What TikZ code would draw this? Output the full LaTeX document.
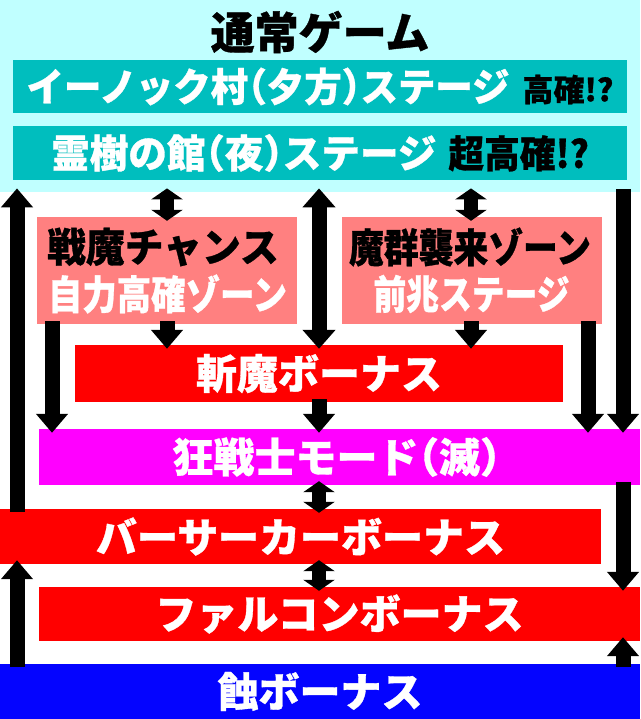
\documentclass[tikz,border=0pt]{standalone}
\usepackage{graphicx}
\usepackage{fontspec}
\setmainfont{Noto Sans CJK JP}[BoldFeatures={FakeBold=0.8}]
\usetikzlibrary{arrows.meta}
\definecolor{normalbg}{RGB}{192,255,255}
\definecolor{stageteal}{RGB}{0,190,190}
\definecolor{zonepink}{RGB}{255,128,128}
\definecolor{modemag}{RGB}{255,0,255}
\definecolor{shokublue}{RGB}{4,4,255}
\newcommand{\squeeze}[2]{\scalebox{#1}[1]{#2}}
\newcommand{\hlp}{{\addfontfeature{RawFeature=+halt}（}}
\newcommand{\hrp}{{\addfontfeature{RawFeature=+halt}）}}

\begin{document}
\begin{tikzpicture}[x=1pt,y=-1pt,
	panel/.style={inner sep=0pt, text=white, font=\bfseries\fontsize{41}{44}\selectfont},
	stage/.style={inner sep=0pt, fill=stageteal, minimum width=614pt, text=white, font=\bfseries\fontsize{39}{42}\selectfont},
	zone/.style={inner sep=0pt, fill=zonepink, minimum width=260pt, minimum height=107pt},
	zonetxt/.style={inner sep=0pt, font=\bfseries\fontsize{40}{42}\selectfont},
	arr/.style={line width=15pt, -{Triangle[width=31pt,length=19pt]}, shorten >=-4pt, shorten <=-3pt},
	dbl/.style={line width=14pt, {Triangle[width=31pt,length=11pt]}-{Triangle[width=31pt,length=11pt]}, shorten >=-4pt, shorten <=-4pt},
	dblbig/.style={line width=15pt, {Triangle[width=32pt,length=19pt]}-{Triangle[width=32pt,length=19pt]}, shorten >=-4pt, shorten <=-4pt}]
	\useasboundingbox (0,0) rectangle (640,719);
	% normal game
	\node[fill=normalbg, minimum width=640pt, minimum height=192pt, inner sep=0pt, anchor=north west] (normal) at (0,0) {};
	\node[inner sep=0pt, font=\bfseries\fontsize{44}{46}\selectfont] (title) at (320,32) {通常ゲーム};
	\node[stage, minimum height=53pt] (enoch) at (320,86.5)
		{\squeeze{0.96}{イーノック村\hlp 夕方\hrp ステージ}\hspace{13pt}{\color{black}\fontsize{31}{34}\selectfont 高確!?}};
	\node[stage, minimum height=54pt] (reiju) at (320,153)
		{\squeeze{0.99}{霊樹の館\hlp 夜\hrp ステージ}\hspace{12pt}{\color{black}\fontsize{38}{40}\selectfont\squeeze{0.94}{超高確!?}}};
	% zones
	\node[zone] (senma) at (167,270.5) {};
	\node[zonetxt] (senmaA) at (163,247) {\squeeze{0.97}{戦魔チャンス}};
	\node[zonetxt, text=white] (senmaB) at (167.5,294) {\squeeze{0.86}{自力高確ゾーン}};
	\node[zone] (magun) at (472,270.5) {};
	\node[zonetxt] (magunA) at (470,247) {\squeeze{0.87}{魔群襲来ゾーン}};
	\node[zonetxt, text=white] (magunB) at (471.5,294) {\squeeze{0.82}{前兆ステージ}};
	% bonuses
	\node[panel, fill=red, minimum width=488pt, minimum height=57pt] (zanma) at (319,373.5) {斬魔ボーナス};
	\node[panel, fill=modemag, minimum width=601pt, minimum height=56pt] (kyosen) at (339.5,457) {\hspace{-6pt}狂戦士モード\hlp 滅\hrp};
	\node[panel, fill=red, minimum width=601pt, minimum height=55pt] (berserk) at (300.5,536.5) {バーサーカーボーナス};
	\node[panel, fill=red, minimum width=601pt, minimum height=54pt] (falcon) at (339.5,614) {ファルコンボーナス};
	\node[panel, fill=shokublue, minimum width=640pt, minimum height=55pt] (shoku) at (320,691.5) {蝕ボーナス};
	% arrow columns
	\coordinate (xa) at (17,0);
	\coordinate (xb) at (52,0);
	\coordinate (xc) at (167,0);
	\coordinate (xd) at (319,0);
	\coordinate (xe) at (471,0);
	\coordinate (xf) at (588,0);
	\coordinate (xg) at (623,0);
	\draw[arr] (berserk.north -| xa) -- (normal.south -| xa);
	\draw[arr] (shoku.north -| xa) -- (berserk.south -| xa);
	\draw[dbl] (normal.south -| xc) -- (senma.north -| xc);
	\draw[dblbig] (normal.south -| xd) -- (zanma.north -| xd);
	\draw[dbl] (normal.south -| xe) -- (magun.north -| xe);
	\draw[arr] (normal.south -| xg) -- (kyosen.north -| xg);
	\draw[arr] (senma.south -| xb) -- (kyosen.north -| xb);
	\draw[arr] (senma.south -| xc) -- (zanma.north -| xc);
	\draw[arr] (magun.south -| xe) -- (zanma.north -| xe);
	\draw[arr] (magun.south -| xf) -- (kyosen.north -| xf);
	\draw[arr] (zanma.south -| xd) -- (kyosen.north -| xd);
	\draw[dbl] (kyosen.south -| xd) -- (berserk.north -| xd);
	\draw[arr] (kyosen.south -| xg) -- (falcon.north -| xg);
	\draw[dbl] (berserk.south -| xd) -- (falcon.north -| xd);
	\draw[arr] (shoku.north -| xg) -- (falcon.south -| xg);
\end{tikzpicture}
\end{document}
